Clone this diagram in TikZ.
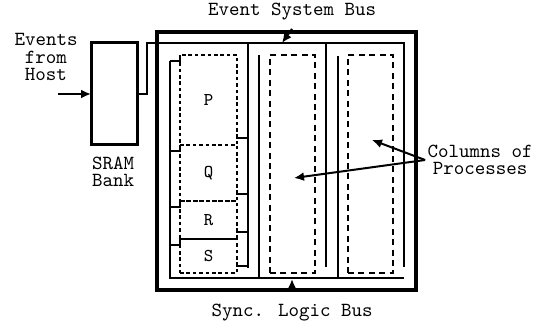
\documentclass[tikz,border=0pt]{standalone}
\usepackage{fontspec}
\usetikzlibrary{arrows.meta,positioning}

\begin{document}
\begin{tikzpicture}[x=0.5pt,y=-0.5pt,
    txt/.style={font=\ttfamily\fontsize{10}{8.8}\selectfont,align=center,inner sep=0pt},
    box/.style={draw,line width=1.5pt,inner sep=0pt,outer sep=0pt},
    proc/.style={draw,line width=1pt,dash pattern=on 1.8pt off 1.4pt,inner sep=0pt,outer sep=0pt,
        minimum width=28.5pt,font=\ttfamily\fontsize{9}{9}\selectfont},
    col/.style={draw,line width=1pt,dash pattern=on 3pt off 2.2pt,inner sep=0pt,outer sep=0pt,
        minimum width=22.5pt,minimum height=109pt},
    bus/.style={line width=1pt},
    arr/.style={line width=1pt,-{Latex[length=5pt,width=4.5pt]}}]
\useasboundingbox (0,0) rectangle (540,325);
\node[box,minimum width=23pt,minimum height=51pt] (sram) at (114,94) {};
\node[box,line width=2pt,minimum width=129.5pt,minimum height=129pt] (chip) at (286.5,161) {};
\foreach \n/\y/\h in {P/100/45, Q/173/28, R/220/19, S/256/17}
    \node[proc,minimum height=\h pt] (\n) at (208.5,\y) {\n};
\node[col] (col2) at (292.5,164) {};
\node[col] (col3) at (370.5,164) {};
\node[txt] (host) at (46,57) {Events\\from\\Host};
\node[txt] (bank) at (113,172) {SRAM\\Bank};
\node[txt] (esb) at (292,12) {Event System Bus};
\node[txt] (slb) at (292,313) {Sync. Logic Bus};
\node[txt] (cols) at (480,160) {Columns of\\Processes};
\coordinate (in) at (58,94);
\coordinate (etop) at (404,43);
\coordinate (sbot) at (170,278);
\coordinate (esbtip) at (282,43);
\coordinate (slbtip) at (292,279);
\coordinate (c2) at (294,178);
\coordinate (c3) at (372,140);
\draw[bus] (sram.east) -- (147,94) |- (etop) -- (404,267);
\draw[bus] (248,43) -- (248,268);
\draw[bus] (326,43) -- (326,267);
\draw[bus] (170,61) -- (sbot) -- (404,278);
\draw[bus] (259,55) -- (259,278);
\draw[bus] (338,56) -- (338,278);
\foreach \n in {P,Q,R,S}{
    \draw[bus] (\n.north west) |- ([xshift=-5pt,yshift=-3pt]\n.north west);
    \draw[bus] ([yshift=5pt]\n.south east) |- ([xshift=5.5pt,yshift=3.5pt]\n.south east);
}
\draw[arr] (in) -- (sram.west);
\draw[arr] ([yshift=-4pt]esb.south) -- (esbtip);
\draw[arr] ([yshift=6pt]slb.north) -- (slbtip);
\draw[arr] ([xshift=-1pt]cols.west) -- (c3);
\draw[arr] ([xshift=-1pt]cols.west) -- (c2);
\end{tikzpicture}
\end{document}
